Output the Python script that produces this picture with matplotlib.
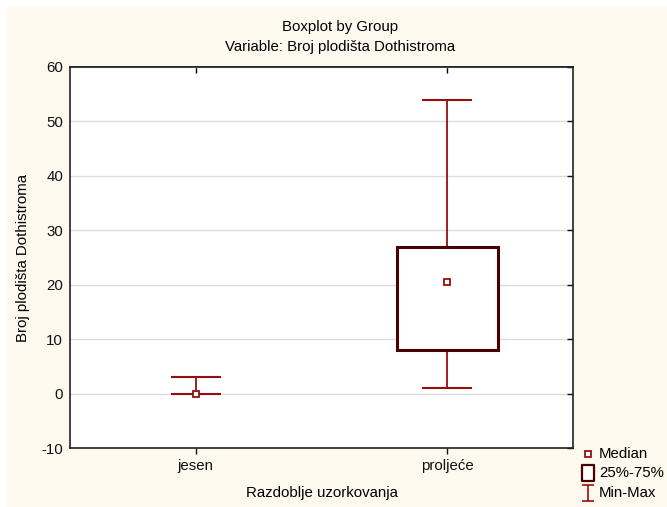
import matplotlib
matplotlib.use("Agg")
import matplotlib.pyplot as plt
from matplotlib.patches import Rectangle
from matplotlib.lines import Line2D
from matplotlib.path import Path

plt.rcParams['font.family'] = ['Liberation Sans', 'DejaVu Sans']
plt.rcParams['axes.unicode_minus'] = False

# ---- data ----
groups = ["jesen", "proljeće"]
minimum = [0, 1]
q1 = [0, 8]
median = [0, 20.5]
q3 = [0, 27]
maximum = [3, 54]
yticks = [-10, 0, 10, 20, 30, 40, 50, 60]

title1 = "Boxplot by Group"
title2 = "Variable: Broj plodišta Dothistroma"
xlabel = "Razdoblje uzorkovanja"
ylabel = "Broj plodišta Dothistroma"
legend_labels = ["Median", "25%-75%", "Min-Max"]

box_col = "#4a0000"
whisk_col = "#960f0f"
bg = "#fdf9ef"
FS = 10.8

W, H = 667, 507
fig = plt.figure(figsize=(W / 100, H / 100), dpi=100, facecolor="white")
fig.patches.append(Rectangle((7 / W, 0), 1 - 7 / W, 1 - 7 / H, transform=fig.transFigure,
                             facecolor=bg, edgecolor="none", zorder=-10))

L, R, T, B = 70, 573, 67, 448
ax = fig.add_axes([L / W, 1 - B / H, (R - L) / W, (B - T) / H])
ax.set_facecolor("white")

positions = [1, 2]
box_w = 0.4
cap_w = 0.2
for i, p in enumerate(positions):
    ax.vlines(p, q3[i], maximum[i], color=whisk_col, lw=1.3, zorder=3)
    ax.vlines(p, minimum[i], q1[i], color=whisk_col, lw=1.3, zorder=3)
    ax.hlines([minimum[i], maximum[i]], p - cap_w / 2, p + cap_w / 2, color=whisk_col, lw=1.5, zorder=3)
    if q3[i] > q1[i]:
        ax.add_patch(Rectangle((p - box_w / 2, q1[i]), box_w, q3[i] - q1[i],
                               facecolor="white", edgecolor=box_col, lw=2.2, zorder=4))
    ax.plot(p, median[i], marker="s", ms=5, mfc="white", mec=whisk_col, mew=1.3, zorder=5, ls="none")

ax.set_xlim(0.5, 2.5)
ax.set_ylim(-10, 60)
ax.set_yticks(yticks)
ax.set_xticks(positions)
ax.set_xticklabels(groups)
ax.yaxis.grid(True, color="#dcdcdc", lw=1)
ax.set_axisbelow(True)
for s in ax.spines.values():
    s.set_color("#222222")
    s.set_linewidth(1.2)
ax.tick_params(axis="both", labelsize=FS, colors="#111111", length=4, width=1)
ax.tick_params(axis="x", pad=4, direction="out")
ax.tick_params(axis="y", left=False, right=True, direction="in", pad=5)
top = ax.secondary_xaxis("top")
top.set_xticks(positions)
top.tick_params(direction="in", length=4, width=1, labeltop=False)
top.spines["top"].set_linewidth(1.2)
top.spines["top"].set_color("#222222")

ax.set_xlabel(xlabel, fontsize=FS)
ax.xaxis.set_label_coords(0.5, (B - 493) / (B - T))
ax.xaxis.label.set_verticalalignment("center")
ax.set_ylabel(ylabel, fontsize=FS)
ax.yaxis.set_label_coords((23 - L) / (R - L), 0.5)
ax.yaxis.label.set_verticalalignment("center")

fig.text(340 / W, 1 - 27 / H, title1, ha="center", va="center", fontsize=FS)
fig.text(340 / W, 1 - 47 / H, title2, ha="center", va="center", fontsize=FS)

# legend (placed manually in figure pixels)
minmax_path = Path([(-0.35, -0.5), (0.35, -0.5), (0, -0.5), (0, 0.5), (-0.35, 0.5), (0.35, 0.5)],
                   [Path.MOVETO, Path.LINETO, Path.MOVETO, Path.LINETO, Path.MOVETO, Path.LINETO])
rect_path = Path([(-0.38, -0.5), (0.38, -0.5), (0.38, 0.5), (-0.38, 0.5), (-0.38, -0.5)],
                 [Path.MOVETO, Path.LINETO, Path.LINETO, Path.LINETO, Path.CLOSEPOLY])
mk_x = 588
txt_x = 599
rows = [454, 473, 493]
styles = [
    dict(marker="s", ms=4.3, mfc="white", mec=whisk_col, mew=1.3),
    dict(marker=rect_path, ms=11.5, mfc="white", mec=box_col, mew=1.6),
    dict(marker=minmax_path, ms=11.5, mfc="none", mec=whisk_col, mew=1.2),
]
for lab, yy, st in zip(legend_labels, rows, styles):
    fig.add_artist(Line2D([mk_x / W], [1 - yy / H], transform=fig.transFigure, ls="none", **st))
    fig.text(txt_x / W, 1 - yy / H, lab, ha="left", va="center", fontsize=FS)

fig.savefig("out.png", dpi=100, facecolor=fig.get_facecolor())
